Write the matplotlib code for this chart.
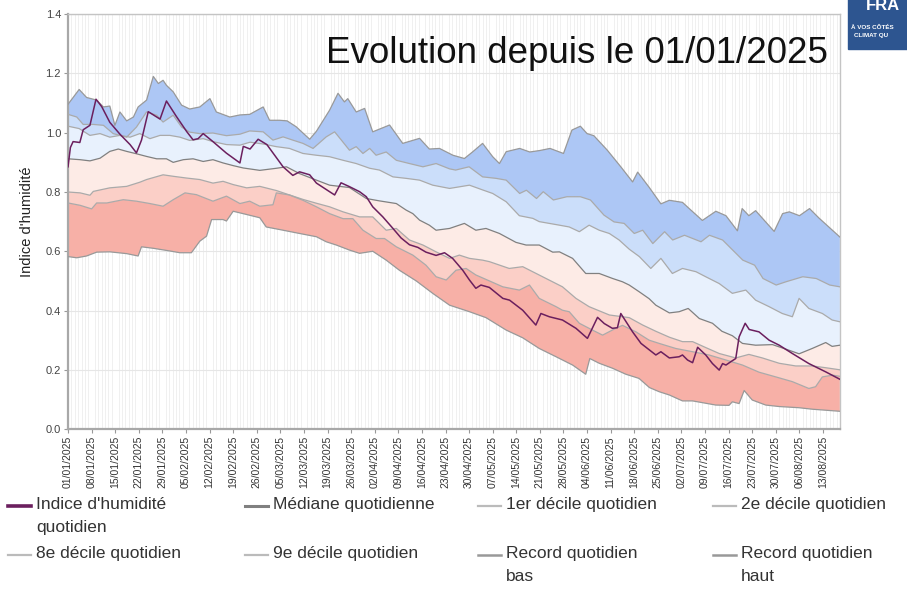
import numpy as np
import pandas as pd
import matplotlib
matplotlib.use("Agg")
import matplotlib.pyplot as plt
from matplotlib.lines import Line2D
from matplotlib.patches import Rectangle

plt.rcParams['font.family'] = ['Liberation Sans', 'DejaVu Sans']

# days counted from 01/01/2025
rec_hi_days = [0, 3.3, 5.5, 8.5, 10.5, 12.4, 13.9, 15.4, 17.4, 19.4, 20.8, 23.3, 25.3, 26.8, 28.2, 29.2,
               31.2, 33.7, 36.1, 39.1, 42.1, 44, 48, 51, 53.9, 57.9, 59.8, 62.8, 65, 67.7, 71.7, 73.7,
               77.6, 80.1, 82, 83, 85.5, 88, 90.4, 95.4, 99.3, 104.3, 107.2, 110.2, 114.2, 117.6, 120,
               123, 126, 128, 130, 134, 137, 140, 143, 147, 149.5, 152, 154, 156, 160, 164, 167.5, 169,
               172.4, 175.9, 178.4, 182.3, 184.3, 188.2, 192.2, 195.2, 198.6, 200, 202, 204, 209.5, 212,
               214, 217, 220, 222.8, 229]
rec_hi = [1.096, 1.146, 1.119, 1.11, 1.087, 1.09, 1.025, 1.07, 1.04, 1.053, 1.087, 1.11, 1.19, 1.166,
          1.177, 1.16, 1.138, 1.093, 1.08, 1.087, 1.115, 1.07, 1.053, 1.06, 1.062, 1.087, 1.042, 1.042,
          1.04, 1.02, 0.978, 1.005, 1.076, 1.133, 1.104, 1.115, 1.07, 1.082, 1.003, 1.026, 0.964, 0.981,
          0.945, 0.947, 0.924, 0.913, 0.935, 0.964, 0.919, 0.896, 0.936, 0.947, 0.935, 0.94, 0.947, 0.93,
          1.009, 1.022, 0.997, 0.99, 0.941, 0.885, 0.834, 0.867, 0.816, 0.76, 0.772, 0.765, 0.744, 0.704,
          0.735, 0.72, 0.669, 0.744, 0.72, 0.737, 0.667, 0.727, 0.733, 0.72, 0.744, 0.712, 0.648]

d9_days = [0, 2.6, 4.5, 7.5, 10.5, 13.4, 17.4, 20.3, 23.3, 26.3, 28.2, 31.2, 33.7, 36.1, 39.1, 43, 47,
           51, 53.9, 57.9, 60.8, 63.8, 66.7, 69.7, 72.7, 76.6, 79.1, 81.1, 83.5, 85.5, 87.5, 89.5, 91.4,
           94.4, 97.4, 101.3, 105.3, 109.2, 113.2, 115, 119, 123, 127, 130, 134, 136, 139, 141, 144, 148,
           152, 155, 159, 162, 165, 168, 170.5, 173.5, 177, 179.4, 182.9, 187.8, 190.3, 194.2, 200.2,
           203.7, 206.2, 210.1, 213, 218, 222, 226, 229]
d9 = [1.062, 1.053, 1.028, 1.028, 1.025, 0.997, 0.985, 1.019, 1.07, 1.059, 1.036, 1.059, 1.019, 1.002,
      0.997, 0.999, 0.99, 0.995, 1.006, 1.003, 0.975, 0.986, 0.975, 0.964, 0.947, 0.986, 1.003, 0.975,
      0.941, 0.953, 0.93, 0.947, 0.924, 0.935, 0.907, 0.896, 0.885, 0.896, 0.878, 0.874, 0.885, 0.851,
      0.846, 0.84, 0.795, 0.806, 0.778, 0.801, 0.773, 0.784, 0.784, 0.773, 0.722, 0.699, 0.694, 0.66,
      0.671, 0.626, 0.666, 0.638, 0.654, 0.632, 0.654, 0.638, 0.57, 0.553, 0.508, 0.486, 0.497, 0.514,
      0.508, 0.486, 0.48]

d8_days = [0, 3.3, 6.5, 9.5, 12.4, 15.4, 18.4, 21.3, 24.3, 27.3, 30.2, 33.2, 36.1, 40.1, 43, 47, 51,
           54, 57.9, 61.8, 65.7, 69.7, 73.7, 77.6, 81.6, 85.5, 89.5, 92.4, 96.4, 100.3, 104.3, 108.2,
           113.2, 119.1, 123, 126, 130, 133.9, 137.9, 139.8, 142.8, 145.8, 148.7, 151.7, 154.6, 157.6,
           160.6, 163.5, 166.5, 169.5, 172.9, 175.9, 179.3, 182.3, 186.3, 189.2, 193.2, 197.1, 201.1,
           204, 208, 211.9, 214.9, 216.9, 219.8, 223.8, 226.7, 229]
d8 = [1.022, 1.014, 0.991, 0.997, 0.985, 0.991, 0.985, 0.997, 0.98, 0.991, 0.991, 0.985, 0.974, 0.98,
      0.97, 0.96, 0.958, 0.968, 0.962, 0.953, 0.947, 0.93, 0.924, 0.919, 0.907, 0.896, 0.88, 0.874,
      0.851, 0.846, 0.84, 0.823, 0.812, 0.823, 0.807, 0.795, 0.767, 0.72, 0.711, 0.7, 0.694, 0.688,
      0.682, 0.666, 0.688, 0.671, 0.66, 0.638, 0.607, 0.582, 0.542, 0.576, 0.525, 0.542, 0.531, 0.514,
      0.491, 0.458, 0.469, 0.435, 0.413, 0.39, 0.379, 0.441, 0.407, 0.39, 0.368, 0.362]

med_days = [0, 3.6, 6.5, 9.5, 12.4, 14.9, 17.4, 20.3, 23.3, 26.3, 29.2, 31.2, 34.2, 37.1, 40.1, 43, 46,
            49, 52, 56.9, 61.8, 64.8, 68.7, 73.7, 77.6, 83.5, 88.5, 92.4, 97.4, 100.3, 102.3, 104.3,
            107.2, 109.2, 113.2, 117.6, 121, 124, 128, 132.9, 135.9, 139.8, 143.8, 145.8, 149.7, 153.6,
            157.6, 161.6, 164.5, 166.5, 169.5, 172.4, 174.4, 178.4, 181.3, 184, 187.3, 191.2, 194,
            197.1, 200.1, 204, 209, 212.9, 216.9, 220.8, 224.8, 226.7, 229]
med = [0.912, 0.909, 0.905, 0.914, 0.937, 0.945, 0.937, 0.929, 0.92, 0.912, 0.912, 0.9, 0.909, 0.912,
       0.903, 0.909, 0.898, 0.889, 0.881, 0.873, 0.88, 0.885, 0.862, 0.84, 0.823, 0.815, 0.778, 0.77,
       0.761, 0.739, 0.727, 0.705, 0.688, 0.671, 0.677, 0.694, 0.671, 0.677, 0.66, 0.63, 0.621, 0.621,
       0.597, 0.598, 0.576, 0.525, 0.525, 0.508, 0.497, 0.486, 0.463, 0.44, 0.418, 0.392, 0.396, 0.407,
       0.373, 0.357, 0.33, 0.315, 0.289, 0.283, 0.285, 0.27, 0.254, 0.272, 0.292, 0.279, 0.283]

d2_days = [0, 3.6, 6.5, 7.5, 12.4, 17.4, 21.3, 23.3, 28.2, 31.2, 35.2, 39.1, 43, 46, 49, 53, 56.9, 61.8,
           65.7, 69.7, 73.7, 77.6, 81.6, 86.5, 90.4, 94.4, 97.4, 101.3, 105.3, 109.2, 113.2, 116.1,
           119.1, 123, 125, 130.9, 134.9, 140.8, 146.7, 150.7, 154.6, 160.6, 166.5, 170.5, 174.4, 178.4,
           182.3, 185.3, 189.2, 193.2, 198.1, 202, 206, 211, 215.9, 220.8, 224.8, 229]
d2 = [0.8, 0.797, 0.789, 0.802, 0.814, 0.819, 0.833, 0.842, 0.858, 0.853, 0.847, 0.842, 0.83, 0.836,
      0.825, 0.814, 0.819, 0.805, 0.79, 0.775, 0.762, 0.75, 0.733, 0.716, 0.716, 0.671, 0.677, 0.638,
      0.621, 0.598, 0.576, 0.587, 0.576, 0.57, 0.565, 0.542, 0.548, 0.514, 0.48, 0.441, 0.413, 0.385,
      0.376, 0.351, 0.33, 0.31, 0.295, 0.295, 0.275, 0.255, 0.24, 0.252, 0.24, 0.222, 0.213, 0.213,
      0.207, 0.2]

d1_days = [0, 3.6, 7, 8.5, 11.5, 16.4, 20.3, 24.3, 28.2, 31.2, 34.7, 38.1, 43, 47, 51, 53.9, 56.9, 60.8,
           61.8, 65.7, 69.7, 73.7, 77.6, 81.6, 84.5, 87.5, 91.4, 93.9, 97.4, 102.3, 106.2, 109.2, 112.2,
           115.1, 118.1, 121, 125, 129, 133.9, 136.9, 139.8, 144.8, 146.7, 148.7, 151.7, 155.6, 158.6,
           162.5, 164.5, 168.5, 172.4, 175.4, 180.3, 185.3, 190.2, 195.2, 200.1, 205, 210, 214.9, 219.8,
           221.8, 223.8, 226.8, 229]
d1 = [0.763, 0.755, 0.743, 0.763, 0.763, 0.774, 0.769, 0.761, 0.752, 0.774, 0.797, 0.791, 0.769, 0.786,
      0.761, 0.769, 0.752, 0.757, 0.797, 0.79, 0.772, 0.75, 0.727, 0.71, 0.71, 0.671, 0.643, 0.643,
      0.615, 0.587, 0.553, 0.514, 0.503, 0.536, 0.542, 0.52, 0.5, 0.48, 0.469, 0.486, 0.441, 0.413,
      0.401, 0.396, 0.357, 0.334, 0.317, 0.34, 0.35, 0.328, 0.3, 0.289, 0.272, 0.261, 0.25, 0.233,
      0.216, 0.192, 0.176, 0.16, 0.137, 0.143, 0.176, 0.182, 0.178]

rec_lo_days = [0, 2.6, 5.5, 8.5, 12.4, 17.4, 20.8, 21.8, 25.3, 30.2, 33.2, 36.6, 39.1, 41.1, 42.6, 46,
               47, 49, 53, 56.9, 58.8, 63.8, 68.7, 73.7, 76.6, 79.6, 83.5, 86.5, 90.4, 94.4, 98.3, 103.3,
               108.2, 113.2, 119.1, 124, 130, 134.9, 139.8, 144.8, 149.7, 153.6, 154.8, 157.6, 161.6,
               165.5, 169.4, 172.5, 175.4, 178.4, 182.3, 185.3, 192.2, 196.1, 197.1, 199.1, 200.6, 203,
               207, 211, 216.9, 220.8, 229]
rec_lo = [0.582, 0.578, 0.584, 0.597, 0.598, 0.592, 0.584, 0.615, 0.61, 0.601, 0.595, 0.595, 0.634,
          0.651, 0.707, 0.707, 0.702, 0.735, 0.724, 0.713, 0.682, 0.671, 0.66, 0.649, 0.632, 0.621,
          0.604, 0.593, 0.6, 0.57, 0.536, 0.5, 0.458, 0.418, 0.396, 0.376, 0.334, 0.308, 0.272, 0.244,
          0.216, 0.185, 0.238, 0.222, 0.205, 0.185, 0.171, 0.14, 0.126, 0.115, 0.095, 0.095, 0.081, 0.08,
          0.092, 0.086, 0.13, 0.098, 0.081, 0.076, 0.072, 0.067, 0.06]

idx_days = [0, 0.7, 1.5, 3.5, 4.5, 6.5, 8.3, 10, 12.4, 15.4, 18.4, 20.3, 21.8, 23.8, 27.3, 29.2, 32.2,
            35.2, 37.1, 38.6, 40.1, 43, 47, 51, 52, 54, 56.4, 59, 63.8, 66.7, 68.7, 71.7, 73.7, 77.6,
            79.1, 81, 83.5, 86.5, 88.5, 90.4, 93.4, 96.4, 98.8, 101.3, 103.8, 106.2, 109.2, 111.7, 114.1,
            117.1, 119.1, 121, 122.5, 125, 129, 131, 134.9, 138.8, 140.3, 142.8, 146.7, 150.7, 154.1,
            157.1, 159.1, 161.5, 163, 164, 167.5, 170, 174.4, 175.9, 178.4, 181.3, 182.3, 183.8, 185.3,
            186.8, 189.2, 191.2, 193.2, 194.2, 195.2, 196.6, 198.1, 199.1, 200.9, 202.1, 205, 208, 211,
            214.9, 219.8, 224.8, 229]
idx = [0.885, 0.95, 0.97, 0.967, 1.01, 1.025, 1.113, 1.088, 1.035, 0.995, 0.96, 0.932, 0.975, 1.071,
       1.046, 1.107, 1.054, 1.004, 0.976, 0.98, 0.997, 0.97, 0.931, 0.898, 0.954, 0.945, 0.978, 0.96,
       0.885, 0.856, 0.868, 0.858, 0.83, 0.801, 0.79, 0.831, 0.818, 0.801, 0.784, 0.75, 0.716, 0.677,
       0.645, 0.622, 0.613, 0.597, 0.586, 0.595, 0.576, 0.536, 0.503, 0.475, 0.486, 0.478, 0.441, 0.435,
       0.401, 0.351, 0.39, 0.379, 0.368, 0.34, 0.306, 0.377, 0.356, 0.34, 0.342, 0.39, 0.328, 0.289,
       0.25, 0.261, 0.24, 0.244, 0.25, 0.233, 0.224, 0.276, 0.25, 0.221, 0.199, 0.221, 0.216, 0.227,
       0.238, 0.311, 0.357, 0.336, 0.328, 0.3, 0.283, 0.255, 0.221, 0.193, 0.168]

tick_days = np.arange(0, 225, 7)
tick_labels = pd.to_datetime('2025-01-01') + pd.to_timedelta(tick_days, unit='D')
tick_labels = tick_labels.strftime('%d/%m/%Y')

series = [(rec_lo_days, rec_lo), (d1_days, d1), (d2_days, d2), (med_days, med),
          (d8_days, d8), (d9_days, d9), (rec_hi_days, rec_hi)]
band_colors = ['#f7b0a7', '#fbcfc7', '#fdebe6', '#e8f1fd', '#cbdefa', '#adc7f5']
line_colors = ['#999999', '#aaaaaa', '#aaaaaa', '#808080', '#aaaaaa', '#aaaaaa', '#999999']

fig = plt.figure(figsize=(9.07, 5.91), dpi=100)
ax = fig.add_axes([0.075, 0.274, 0.851, 0.702])

for i in range(6):
    xl, yl = series[i]
    xh, yh = series[i + 1]
    ax.fill(np.r_[xl, xh[::-1]], np.r_[yl, yh[::-1]], color=band_colors[i], lw=0, zorder=2)
for (x, y), c in zip(series, line_colors):
    ax.plot(x, y, color=c, lw=0.9, zorder=3)
ax.plot(idx_days, idx, color='#6b1f5e', lw=1.1, zorder=4)

ax.set_xlim(0, 229)
ax.set_ylim(0, 1.4)
ax.set_xticks(tick_days)
ax.set_xticklabels(tick_labels, rotation=90, fontsize=7.5, color='#333333')
ax.set_xticks(np.arange(0, 229, 1), minor=True)
ax.set_yticks(np.arange(0, 1.41, 0.2))
ax.set_yticklabels(['%.1f' % v for v in np.arange(0, 1.41, 0.2)], fontsize=8, color='#444444')
ax.tick_params(axis='x', which='minor', length=0)
ax.tick_params(axis='both', which='major', length=3, color='#999999', pad=2)
ax.grid(True, axis='x', which='minor', color='#eeeeee', lw=0.6, zorder=0)
ax.grid(True, axis='y', which='major', color='#e6e6e6', lw=0.8, zorder=0)
ax.set_axisbelow(True)
for side in ['left', 'bottom']:
    ax.spines[side].set_color('#a8a8a8')
    ax.spines[side].set_linewidth(1.6)
for side in ['top', 'right']:
    ax.spines[side].set_color('#c4c4c4')
    ax.spines[side].set_linewidth(1.0)
ax.set_ylabel("Indice d'humidité", fontsize=10.5, color='#222222', labelpad=8)

ax.text(0.984, 0.905, 'Evolution depuis le 01/01/2025', transform=ax.transAxes,
        ha='right', va='center', fontsize=26.5, color='#111111', zorder=5)

# logo corner, cut by the right edge as in the source
fig.patches.append(Rectangle((848 / 907, 1 - 49 / 591), 0.1, 0.1, transform=fig.transFigure,
                             color='#2d5590', zorder=1))
fig.text(866 / 907, 1 - 6 / 591, 'FRA', color='white', fontsize=12, fontweight='bold',
         va='center', ha='left')
fig.text(851 / 907, 1 - 27 / 591, 'À VOS CÔTÉS', color='white', fontsize=4.5,
         fontweight='bold', va='center', ha='left')
fig.text(854 / 907, 1 - 35 / 591, 'CLIMAT QU', color='white', fontsize=4.5,
         fontweight='bold', va='center', ha='left')

# legend
legend_items = [("Indice d'humidité\nquotidien", '#6b1f5e', 2.6),
                ('Médiane quotidienne', '#808080', 2.2),
                ('1er décile quotidien', '#bbbbbb', 1.6),
                ('2e décile quotidien', '#bbbbbb', 1.6),
                ('8e décile quotidien', '#bbbbbb', 1.6),
                ('9e décile quotidien', '#bbbbbb', 1.6),
                ('Record quotidien\nbas', '#999999', 1.8),
                ('Record quotidien\nhaut', '#999999', 1.8)]
col_x = [8, 245, 478, 713]
row_y = [506, 555]
for k, (label, col, lw) in enumerate(legend_items):
    x0 = col_x[k % 4]
    y0 = row_y[k // 4]
    fig.add_artist(Line2D([x0 / 907, (x0 + 23) / 907], [1 - y0 / 591, 1 - y0 / 591],
                          color=col, lw=lw, transform=fig.transFigure))
    fig.text((x0 + 28) / 907, 1 - (y0 - 9) / 591, label, fontsize=12.5, color='#333333',
             va='top', ha='left', linespacing=1.7)

fig.savefig('out.png', dpi=100)
